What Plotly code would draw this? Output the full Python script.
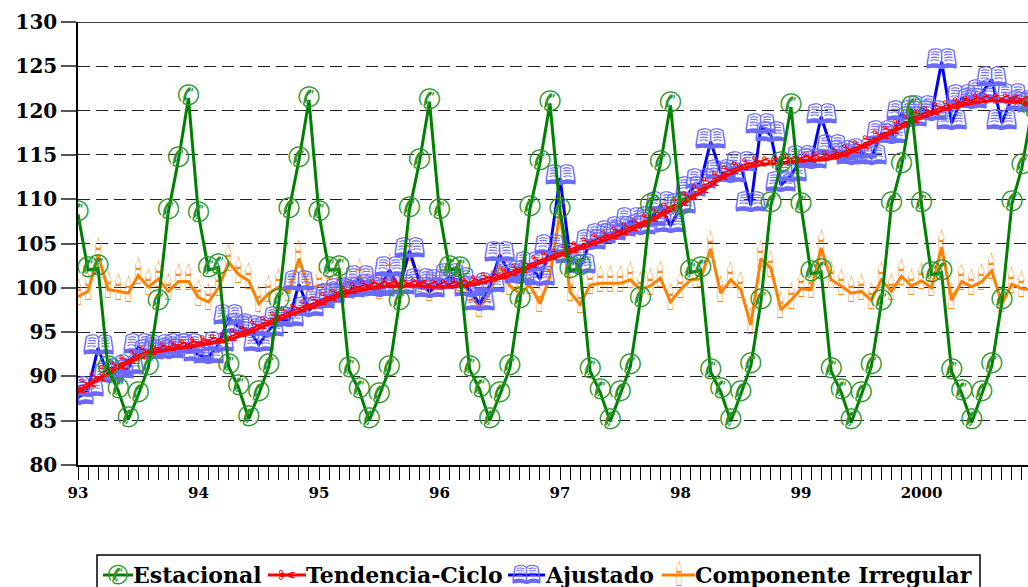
import plotly.graph_objects as go

# ---------------- data ----------------
year_labels = ["93", "94", "95", "96", "97", "98", "99", "2000"]

estacional = [
    108.3, 102.0, 102.2, 90.8, 88.4, 85.1, 87.9, 91.0, 98.3, 108.6, 114.4, 121.4,
    108.2, 102.0, 102.3, 91.1, 88.7, 85.2, 88.0, 91.1, 98.4, 108.7, 114.4, 121.2,
    108.3, 102.0, 102.1, 90.7, 88.4, 85.0, 87.8, 90.8, 98.3, 108.8, 114.2, 121.0,
    108.5, 102.1, 102.0, 90.8, 88.5, 85.0, 87.9, 90.9, 98.5, 108.9, 114.1, 120.8,
    108.7, 101.9, 102.2, 90.6, 88.2, 84.9, 88.0, 91.1, 98.6, 109.1, 114.0, 120.6,
    109.0, 101.7, 102.0, 90.5, 88.3, 84.9, 88.0, 91.2, 98.4, 109.3, 113.9, 120.4,
    109.2, 101.6, 101.8, 90.6, 88.2, 84.8, 87.9, 91.1, 98.3, 109.4, 113.7, 120.2,
    109.4, 101.5, 101.7, 90.5, 88.1, 84.8, 88.0, 91.2, 98.4, 109.5, 113.6, 120.1,
]

tendencia = [
    88.2, 88.9, 89.6, 90.3, 90.9, 91.5, 92.0, 92.5, 92.8, 93.0, 93.2, 93.3,
    93.5, 93.7, 93.9, 94.1, 94.5, 94.9, 95.4, 95.9, 96.4, 96.9, 97.3, 97.7,
    98.1, 98.6, 99.1, 99.4, 99.7, 99.9, 100.1, 100.2, 100.2, 100.2, 100.2, 100.1,
    100.1, 100.1, 100.2, 100.3, 100.5, 100.8, 101.1, 101.4, 101.8, 102.3, 102.8, 103.2,
    103.6, 104.0, 104.4, 104.8, 105.2, 105.6, 106.0, 106.5, 107.0, 107.5, 108.1, 108.7,
    109.3, 110.0, 110.8, 111.6, 112.3, 112.9, 113.4, 113.7, 113.9, 114.0, 114.1, 114.2,
    114.3, 114.4, 114.4, 114.6, 114.9, 115.3, 115.8, 116.3, 116.9, 117.5, 118.1, 118.7,
    119.2, 119.6, 120.0, 120.3, 120.6, 120.8, 121.0, 121.1, 121.1, 121.0, 120.9, 120.7,
]

ajustado = [
    87.6, 88.5, 93.2, 90.1, 90.5, 90.9, 93.3, 92.6, 93.2, 92.8, 93.3, 93.3,
    92.4, 92.2, 93.6, 96.6, 95.6, 95.3, 93.6, 95.2, 96.4, 96.4, 100.4, 97.5,
    98.4, 99.0, 99.5, 99.6, 101.0, 100.0, 99.8, 102.0, 100.0, 104.2, 100.7, 99.6,
    100.5, 101.2, 100.8, 99.8, 98.2, 100.2, 103.7, 101.6, 101.2, 102.6, 101.0, 104.5,
    112.4, 103.5, 102.4, 105.1, 105.7, 106.1, 106.5, 107.5, 106.8, 107.7, 109.3, 107.0,
    109.1, 111.0, 111.9, 116.5, 113.0, 112.6, 113.9, 109.3, 118.2, 117.2, 111.6, 112.7,
    114.5, 114.2, 119.3, 115.8, 115.1, 114.6, 115.3, 114.7, 117.4, 117.0, 119.6, 118.9,
    120.2, 119.6, 125.5, 118.6, 121.4, 121.0, 122.0, 123.5, 118.6, 121.5, 120.8, 120.5,
]

irregular = [
    99.0, 99.6, 103.7, 99.8, 99.6, 99.4, 101.4, 100.1, 101.0, 99.6, 100.7, 100.7,
    98.9, 98.4, 100.0, 102.9, 101.5, 100.8, 98.2, 99.4, 100.1, 99.5, 103.3, 99.8,
    100.3, 100.4, 100.4, 100.2, 101.3, 100.1, 99.7, 101.8, 99.8, 104.0, 100.5, 99.5,
    100.4, 101.1, 100.6, 99.5, 97.7, 99.4, 102.6, 100.2, 99.4, 100.3, 98.2, 101.3,
    108.5, 99.5, 98.1, 100.3, 100.5, 100.5, 100.5, 100.9, 99.8, 100.2, 101.1, 98.4,
    99.8, 100.9, 101.0, 104.4, 99.4, 100.9, 99.8, 95.8, 103.3, 102.2, 97.5, 98.6,
    99.9, 99.8, 104.5, 100.9, 100.2, 99.4, 99.6, 98.6, 100.9, 99.6, 101.3, 100.2,
    100.8, 100.0, 104.6, 98.6, 100.7, 100.1, 100.7, 101.9, 98.2, 100.4, 99.9, 99.8,
]

months = list(range(len(estacional)))
year_ticks = [12 * i for i in range(len(year_labels))]

# ---------------- styling ----------------
GREEN = "#008000"
RED = "#FF0000"
BLUE = "#0000FF"
ORANGE = "#FF8000"
SERIF = "DejaVu Serif"
SYM = "DejaVu Sans"

G_PHONE = "\u2706"
G_SCISS = "\u2702"
G_BOOK = "\U0001F56E"
G_CANDLE = "\U0001F56F"

fig = go.Figure()

def add_series(y, color, glyph, gsize, gcolor):
    fig.add_trace(go.Scatter(
        x=months, y=y, mode="lines+text",
        line=dict(color=color, width=3),
        text=[glyph] * len(y), textposition="middle center",
        textfont=dict(family=SYM, size=gsize, color=gcolor),
        showlegend=False, hoverinfo="skip",
    ))

add_series(irregular, ORANGE, G_CANDLE, 30, "#FF8C1A")
add_series(ajustado, BLUE, G_BOOK, 28, "#6A6AFF")
add_series(tendencia, RED, G_SCISS, 23, RED)
add_series(estacional, GREEN, G_PHONE, 28, "#2A962A")

fig.update_layout(
    width=1028, height=587,
    margin=dict(l=78, r=0, t=22, b=122),
    paper_bgcolor="white", plot_bgcolor="white",
    showlegend=False,
    xaxis=dict(
        range=[0, 94.6],
        tickmode="array", tickvals=year_ticks, ticktext=year_labels,
        ticks="outside", ticklen=13, tickcolor="black", tickwidth=1,
        minor=dict(dtick=1, tick0=0, ticks="outside", ticklen=13,
                   tickcolor="black", tickwidth=1, showgrid=False),
        showgrid=False, zeroline=False,
        showline=True, linecolor="black", linewidth=1.5,
        tickfont=dict(family=SERIF, size=15, color="black", weight="bold"),
    ),
    yaxis=dict(
        range=[80, 130], dtick=5, tick0=80,
        ticks="outside", ticklen=15, tickcolor="#555", tickwidth=1.5,
        showgrid=True, gridcolor="#222", gridwidth=1.3, griddash="12px,6px",
        zeroline=False,
        showline=True, linecolor="black", linewidth=1.5,
        tickfont=dict(family=SERIF, size=20, color="black", weight="bold"),
    ),
)

# solid top border at 130
fig.add_shape(type="line", xref="paper", yref="y", x0=0, x1=1, y0=130, y1=130,
              line=dict(color="black", width=1.5))

# ---------------- manual legend ----------------
def px_x(px):
    return (px - 78) / 950.0

def px_y(py):
    return (465 - py) / 443.0

fig.add_shape(type="rect", xref="paper", yref="paper",
              x0=px_x(97), x1=px_x(980), y0=px_y(555), y1=px_y(600),
              line=dict(color="black", width=1.5), fillcolor="rgba(0,0,0,0)")

legend_items = [
    ("Estacional", GREEN, G_PHONE, 26, "#2A962A", 103, 133),
    ("Tendencia-Ciclo", RED, G_SCISS, 22, RED, 268, 306),
    ("Ajustado", BLUE, G_BOOK, 26, "#6A6AFF", 508, 545),
    ("Componente Irregular", ORANGE, G_CANDLE, 28, "#FF8C1A", 662, 695),
]
ly = 575
for name, col, glyph, gs, gc, x0, x1 in legend_items:
    fig.add_shape(type="line", xref="paper", yref="paper",
                  x0=px_x(x0), x1=px_x(x1), y0=px_y(ly), y1=px_y(ly),
                  line=dict(color=col, width=3))
    fig.add_annotation(xref="paper", yref="paper", x=px_x((x0 + x1) / 2), y=px_y(ly),
                       text=glyph, showarrow=False, xanchor="center", yanchor="middle",
                       font=dict(family=SYM, size=gs, color=gc))
    fig.add_annotation(xref="paper", yref="paper", x=px_x(x1), y=px_y(ly),
                       text="<b>" + name + "</b>", showarrow=False,
                       xanchor="left", yanchor="middle", xshift=-2,
                       font=dict(family=SERIF, size=22, color="black"))

fig.write_html("out.html")
